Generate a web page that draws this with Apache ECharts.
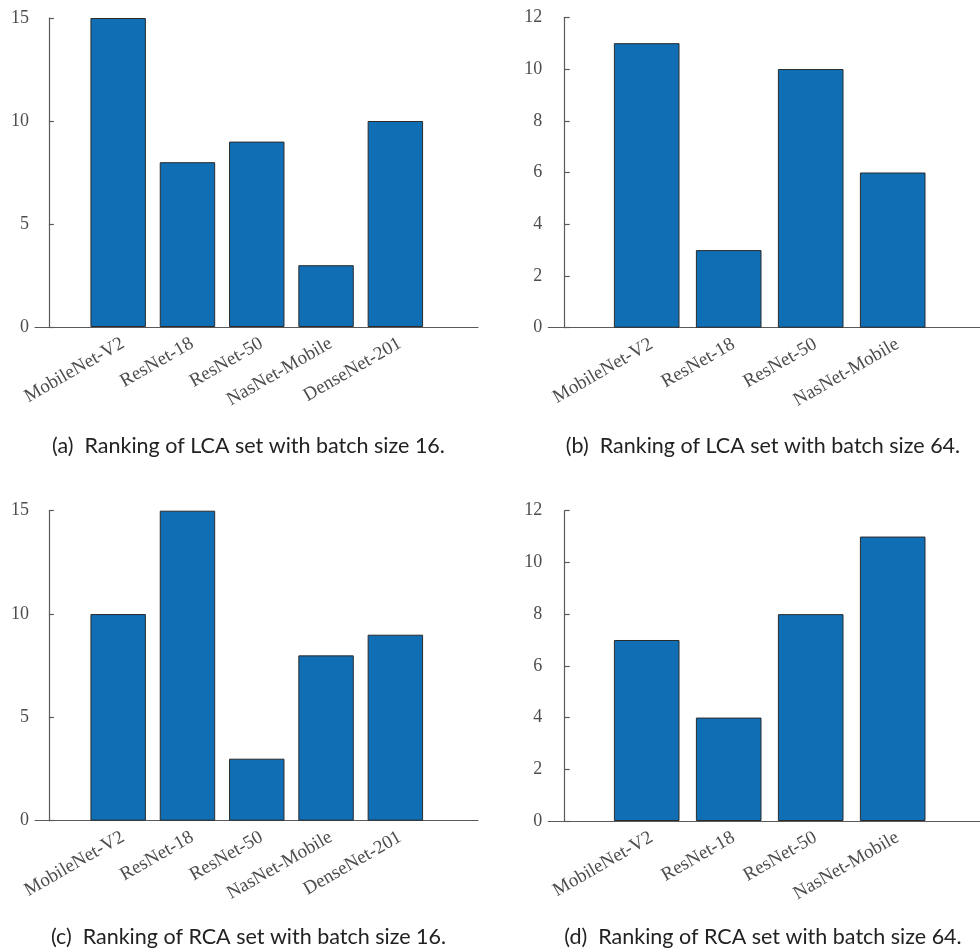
<!DOCTYPE html>
<html>
<head>
<meta charset="utf-8">
<script src="https://cdn.jsdelivr.net/npm/echarts@6/dist/echarts.min.js"></script>
<style>
  html, body { margin: 0; padding: 0; background: #fff; }
  #chart { width: 980px; height: 948px; }
</style>
</head>
<body>
<div id="chart"></div>
<script>
// ---------------- data ----------------
const categories5 = ['MobileNet-V2', 'ResNet-18', 'ResNet-50', 'NasNet-Mobile', 'DenseNet-201'];
const categories4 = ['MobileNet-V2', 'ResNet-18', 'ResNet-50', 'NasNet-Mobile'];

const lcaBatch16 = [15, 8, 9, 3, 10];
const lcaBatch64 = [11, 3, 10, 6];
const rcaBatch16 = [10, 15, 3, 8, 9];
const rcaBatch64 = [7, 4, 8, 11];

const yTicks16 = [0, 5, 10, 15];
const yTicks64 = [0, 2, 4, 6, 8, 10, 12];

const captionA = '(a)  Ranking of LCA set with batch size 16.';
const captionB = '(b)  Ranking of LCA set with batch size 64.';
const captionC = '(c)  Ranking of RCA set with batch size 16.';
const captionD = '(d)  Ranking of RCA set with batch size 64.';

// ---------------- layout ----------------
const panels = [
  { cats: categories5, vals: lcaBatch16, ticks: yTicks16, caption: captionA,
    xL: 35, unit: 69.3, xR: 478, yT: 18, yB: 327, capX: 248.5, capY: 445 },
  { cats: categories4, vals: lcaBatch64, ticks: yTicks64, caption: captionB,
    xL: 548.3, unit: 82, xR: 980, yT: 17.3, yB: 327.7, capX: 763, capY: 445 },
  { cats: categories5, vals: rcaBatch16, ticks: yTicks16, caption: captionC,
    xL: 35, unit: 69.3, xR: 478, yT: 510.7, yB: 820.7, capX: 248.5, capY: 936 },
  { cats: categories4, vals: rcaBatch64, ticks: yTicks64, caption: captionD,
    xL: 548.3, unit: 82, xR: 980, yT: 510.7, yB: 821, capX: 763, capY: 936 }
];

const W = 980, H = 948;
const axisColor = '#5a5a5a';
const labelColor = '#4d4d4d';
const serif = '"Liberation Serif", "Times New Roman", serif';
const capFont = 21.5;

const grid = [], xAxis = [], yAxis = [], series = [], title = [];

panels.forEach((p, i) => {
  const yMin = p.ticks[0];
  const yMax = p.ticks[p.ticks.length - 1];
  const yInt = p.ticks[1] - p.ticks[0];
  const leftPad = 1.2;              // first category sits 1.2 units from the y axis
  const span = (p.xR - p.xL) / p.unit;

  // Grid A: axes frame (value x axis)
  const ga = grid.length;
  grid.push({ left: p.xL, top: p.yT, width: p.xR - p.xL, height: p.yB - p.yT, containLabel: false });
  xAxis.push({
    type: 'value', gridIndex: ga, min: 1 - leftPad, max: 1 - leftPad + span,
    axisLine: { show: true, onZero: false, lineStyle: { color: axisColor, width: 1.2 } },
    axisTick: { show: false }, axisLabel: { show: false }, splitLine: { show: false }
  });
  yAxis.push({
    type: 'value', gridIndex: ga, min: yMin, max: yMax, interval: yInt,
    axisLine: { show: true, lineStyle: { color: axisColor, width: 1.2 } },
    axisTick: { show: true, inside: true, length: 5, lineStyle: { color: axisColor, width: 1.2 } },
    axisLabel: { color: labelColor, fontFamily: serif, fontSize: 18, margin: 6 },
    splitLine: { show: false }
  });

  // Grid B: category slots for the bars
  const gb = grid.length;
  const n = p.cats.length;
  grid.push({ left: p.xL + (leftPad - 0.5) * p.unit, top: p.yT, width: n * p.unit, height: p.yB - p.yT, containLabel: false });
  xAxis.push({
    type: 'category', gridIndex: gb, data: p.cats, boundaryGap: true,
    axisLine: { show: false }, axisTick: { show: false },
    axisLabel: { interval: 0, rotate: 30, color: labelColor, fontFamily: serif, fontSize: 19,
                 margin: 7, verticalAlign: 'top', align: 'right' }
  });
  yAxis.push({
    type: 'value', gridIndex: gb, min: yMin, max: yMax, interval: yInt, show: false,
    splitLine: { show: false }
  });

  series.push({
    type: 'bar', xAxisIndex: gb, yAxisIndex: gb, data: p.vals, barWidth: '80%',
    itemStyle: { color: '#0F6EB4', borderColor: '#2b2b2b', borderWidth: 1 },
    silent: true, animation: false
  });

  title.push({
    text: p.caption, left: p.capX, top: p.capY - capFont * 0.45, textAlign: 'center', padding: 0,
    textStyle: { fontFamily: 'Lato', fontSize: capFont, fontWeight: 'normal', color: '#222' }
  });
});

const chart = echarts.init(document.getElementById('chart'), null, { renderer: 'canvas', width: W, height: H });
chart.setOption({
  backgroundColor: '#ffffff',
  animation: false,
  title, grid, xAxis, yAxis, series
});
</script>
</body>
</html>
